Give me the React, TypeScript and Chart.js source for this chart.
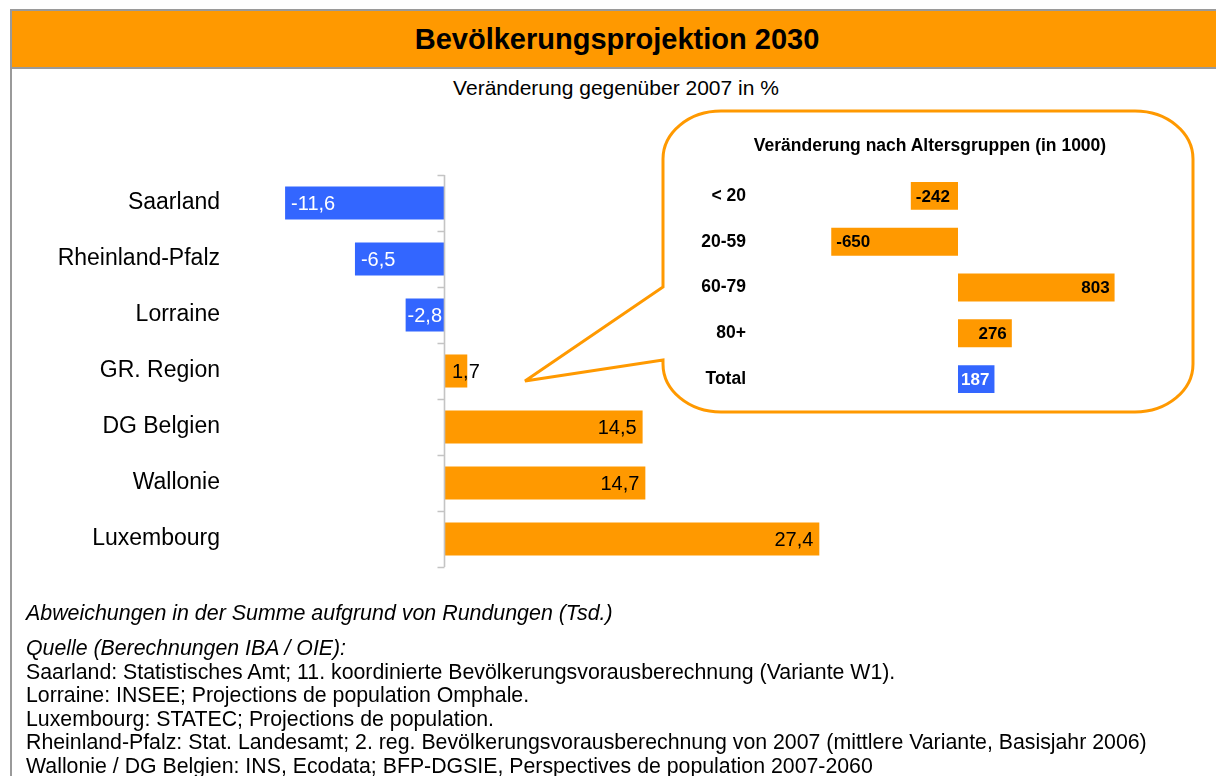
import React, { useEffect, useRef } from "react";
import { Chart, registerables } from "chart.js";

Chart.register(...registerables);

// ---- Data ----
const regions = ["Saarland", "Rheinland-Pfalz", "Lorraine", "GR. Region", "DG Belgien", "Wallonie", "Luxembourg"];
const regionChange = [-11.6, -6.5, -2.8, 1.7, 14.5, 14.7, 27.4];

const ageGroups = ["< 20", "20-59", "60-79", "80+", "Total"];
const ageChange = [-242, -650, 803, 276, 187];

const titleText = "Bevölkerungsprojektion 2030";
const subtitleText = "Veränderung gegenüber 2007 in %";
const insetTitle = "Veränderung nach Altersgruppen (in 1000)";
const noteText = "Abweichungen in der Summe aufgrund von Rundungen (Tsd.)";
const sourceTitle = "Quelle (Berechnungen IBA / OIE):";
const sourceLines = [
  "Saarland: Statistisches Amt; 11. koordinierte Bevölkerungsvorausberechnung (Variante W1).",
  "Lorraine: INSEE; Projections de population Omphale.",
  "Luxembourg: STATEC; Projections de population.",
  "Rheinland-Pfalz: Stat. Landesamt; 2. reg. Bevölkerungsvorausberechnung von 2007 (mittlere Variante, Basisjahr 2006)",
  "Wallonie / DG Belgien: INS, Ecodata; BFP-DGSIE, Perspectives de population 2007-2060",
];

const ORANGE = "#FF9900";
const BLUE = "#3366FF";
const FONT = "'Liberation Sans', Arial, Helvetica, sans-serif";

type LabelCfg = {
  font: string;
  margin: number;
  format: (v: number) => string;
  color: (v: number, i: number) => string;
};

function valueLabels(cfg: LabelCfg) {
  return {
    id: "valueLabels",
    afterDatasetsDraw(chart: any) {
      const ctx = chart.ctx;
      const meta = chart.getDatasetMeta(0);
      const base = chart.scales.x.getPixelForValue(0);
      const data = chart.data.datasets[0].data as number[];
      ctx.save();
      ctx.font = cfg.font;
      ctx.textBaseline = "middle";
      meta.data.forEach((bar: any, i: number) => {
        const v = data[i];
        const text = cfg.format(v);
        const w = ctx.measureText(text).width;
        const barW = Math.abs(bar.x - base);
        ctx.fillStyle = cfg.color(v, i);
        if (v < 0) {
          const m = Math.min(cfg.margin, Math.max(0, (barW - w) / 2));
          ctx.textAlign = "left";
          ctx.fillText(text, bar.x + m, bar.y + 1);
        } else if (w + cfg.margin <= barW) {
          ctx.textAlign = "right";
          ctx.fillText(text, bar.x - cfg.margin, bar.y + 1);
        } else {
          ctx.textAlign = "left";
          ctx.fillText(text, base + 8, bar.y + 1);
        }
      });
      ctx.restore();
    },
  };
}

const zeroAxis = {
  id: "zeroAxis",
  afterDatasetsDraw(chart: any) {
    const ctx = chart.ctx;
    const x0 = Math.round(chart.scales.x.getPixelForValue(0)) + 0.5;
    const ys = chart.scales.y;
    const n = chart.data.labels.length;
    ctx.save();
    ctx.strokeStyle = "#C4C4C4";
    ctx.lineWidth = 1.6;
    ctx.beginPath();
    ctx.moveTo(x0, ys.getPixelForValue(-0.5));
    ctx.lineTo(x0, ys.getPixelForValue(n - 0.5));
    for (let i = 0; i <= n; i++) {
      const y = Math.round(ys.getPixelForValue(i - 0.5)) + 0.5;
      ctx.moveTo(x0 - 7, y);
      ctx.lineTo(x0, y);
    }
    ctx.stroke();
    ctx.restore();
  },
};

function MainChart() {
  const ref = useRef<HTMLCanvasElement>(null);
  useEffect(() => {
    const chart = new Chart(ref.current!, {
      type: "bar",
      data: {
        labels: regions,
        datasets: [
          {
            data: regionChange,
            backgroundColor: (c: any) => (c.raw < 0 ? BLUE : ORANGE),
            barPercentage: 0.59,
            categoryPercentage: 1,
          },
        ],
      },
      options: {
        indexAxis: "y",
        animation: false,
        responsive: false,
        devicePixelRatio: 1,
        layout: { padding: { top: 20, bottom: 20, left: 0, right: 0 } },
        plugins: { legend: { display: false }, tooltip: { enabled: false } },
        scales: {
          x: { display: false, min: -16.06, max: 31.1 },
          y: {
            grid: { display: false, drawTicks: false },
            border: { display: false },
            ticks: { color: "#000", font: { family: FONT, size: 23 }, padding: 4 },
            afterFit: (s: any) => {
              s.width = 224;
            },
          },
        },
      },
      plugins: [
        zeroAxis,
        valueLabels({
          font: `20px ${FONT}`,
          margin: 6,
          format: (v) => v.toFixed(1).replace(".", ","),
          color: (v) => (v < 0 ? "#FFFFFF" : "#000000"),
        }),
      ],
    } as any);
    return () => chart.destroy();
  }, []);
  return (
    <canvas
      ref={ref}
      width={870}
      height={432}
      style={{ position: "absolute", left: 0, top: 155, width: 870, height: 432 }}
    />
  );
}

function InsetChart() {
  const ref = useRef<HTMLCanvasElement>(null);
  useEffect(() => {
    const last = ageGroups.length - 1;
    const chart = new Chart(ref.current!, {
      type: "bar",
      data: {
        labels: ageGroups,
        datasets: [
          {
            data: ageChange,
            backgroundColor: (c: any) => (c.dataIndex === last ? BLUE : ORANGE),
            barPercentage: 0.61,
            categoryPercentage: 1,
          },
        ],
      },
      options: {
        indexAxis: "y",
        animation: false,
        responsive: false,
        devicePixelRatio: 1,
        layout: { padding: { top: 16, bottom: 16, left: 0, right: 0 } },
        plugins: { legend: { display: false }, tooltip: { enabled: false } },
        scales: {
          x: { display: false, min: -1066.7, max: 1138.5 },
          y: {
            grid: { display: false, drawTicks: false },
            border: { display: false },
            ticks: { color: "#000", font: { family: FONT, size: 17.5, weight: "bold" }, padding: 4 },
            afterFit: (s: any) => {
              s.width = 70;
            },
          },
        },
      },
      plugins: [
        valueLabels({
          font: `bold 17px ${FONT}`,
          margin: 5,
          format: (v) => String(v),
          color: (_v, i) => (i === last ? "#FFFFFF" : "#000000"),
        }),
      ],
    } as any);
    return () => chart.destroy();
  }, []);
  return (
    <canvas
      ref={ref}
      width={500}
      height={261}
      style={{ position: "absolute", left: 680, top: 157, width: 500, height: 261 }}
    />
  );
}

function Callout() {
  const L = 663, R = 1193, T = 111, B = 412, rx = 58, ry = 48;
  const d = [
    `M ${L} 360`,
    `L ${L} ${B - ry}`,
    `A ${rx} ${ry} 0 0 0 ${L + rx} ${B}`,
    `L ${R - rx} ${B}`,
    `A ${rx} ${ry} 0 0 0 ${R} ${B - ry}`,
    `L ${R} ${T + ry}`,
    `A ${rx} ${ry} 0 0 0 ${R - rx} ${T}`,
    `L ${L + rx} ${T}`,
    `A ${rx} ${ry} 0 0 0 ${L} ${T + ry}`,
    `L ${L} 287`,
    `L 525 381`,
    `Z`,
  ].join(" ");
  return (
    <svg
      width={1216}
      height={776}
      style={{ position: "absolute", left: 0, top: 0, pointerEvents: "none" }}
    >
      <path d={d} fill="#FFFFFF" stroke={ORANGE} strokeWidth={3} strokeLinejoin="miter" />
    </svg>
  );
}

export default function App() {
  useEffect(() => {
    document.body.style.margin = "0";
    document.body.style.overflow = "hidden";
  }, []);
  const abs = (s: React.CSSProperties): React.CSSProperties => ({ position: "absolute", ...s });
  return (
    <div style={{ position: "relative", width: 1216, height: 776, overflow: "hidden", background: "#fff", fontFamily: FONT }}>
      <div style={abs({ left: 10, top: 9, width: 1206, height: 2, background: "#9A9A9A" })} />
      <div style={abs({ left: 10, top: 9, width: 2, height: 767, background: "#9A9A9A" })} />
      <div style={abs({ left: 12, top: 11, width: 1204, height: 56, background: ORANGE })} />
      <div style={abs({ left: 10, top: 67, width: 1206, height: 2, background: "#9A9A9A" })} />
      <div
        style={abs({
          left: 12, top: 11, width: 1210, height: 56, lineHeight: "56px", textAlign: "center",
          fontWeight: "bold", fontSize: 29, color: "#000",
        })}
      >
        {titleText}
      </div>
      <div style={abs({ left: 12, top: 76, width: 1208, textAlign: "center", fontSize: 21, lineHeight: "24px", color: "#000" })}>
        {subtitleText}
      </div>
      <MainChart />
      <Callout />
      <div style={abs({ left: 680, top: 133, width: 500, textAlign: "center", fontWeight: "bold", fontSize: 17.5, lineHeight: "24px", color: "#000" })}>
        {insetTitle}
      </div>
      <InsetChart />
      <div style={abs({ left: 26, top: 601, fontStyle: "italic", fontSize: 21.4, lineHeight: "24px", color: "#000", whiteSpace: "nowrap" })}>
        {noteText}
      </div>
      <div style={abs({ left: 26, top: 637, fontSize: 21.3, lineHeight: "23.5px", color: "#000", whiteSpace: "nowrap" })}>
        <div style={{ fontStyle: "italic" }}>{sourceTitle}</div>
        {sourceLines.map((l) => (
          <div key={l}>{l}</div>
        ))}
      </div>
    </div>
  );
}
